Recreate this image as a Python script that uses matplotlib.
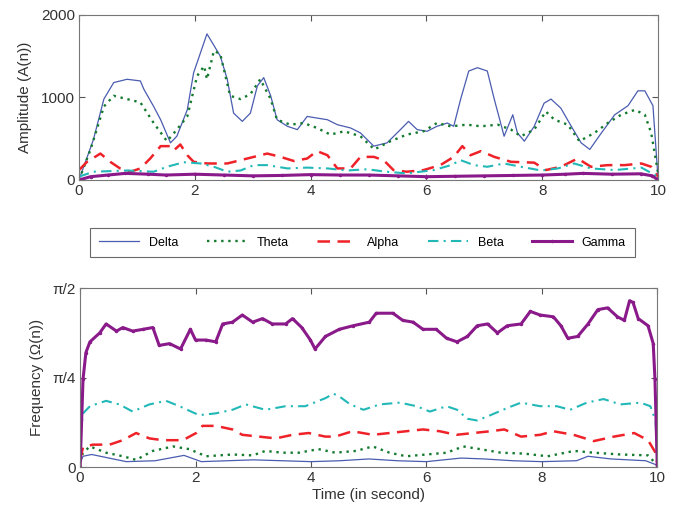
import matplotlib
matplotlib.use("Agg")
import matplotlib.pyplot as plt
import numpy as np

plt.rcParams['font.family'] = ['Liberation Sans', 'DejaVu Sans']

# ---- amplitude panel ----
delta_amp_t = [0, 0.25, 0.43, 0.6, 0.83, 1.06, 1.12, 1.29, 1.41, 1.58, 1.69, 1.87, 1.98, 2.1, 2.21,
               2.33, 2.44, 2.56, 2.67, 2.82, 2.96, 3.08, 3.19, 3.31, 3.42, 3.6, 3.77, 3.94, 4.11,
               4.29, 4.46, 4.69, 4.86, 5.09, 5.32, 5.55, 5.69, 5.84, 6.01, 6.18, 6.36, 6.47, 6.59,
               6.73, 6.88, 7.05, 7.17, 7.28, 7.34, 7.49, 7.57, 7.69, 7.86, 8.03, 8.15, 8.32, 8.5,
               8.67, 8.82, 9.02, 9.25, 9.48, 9.65, 9.77, 9.91, 10]
delta_amp = [0, 490, 980, 1180, 1220, 1200, 1100, 890, 730, 450, 530, 850, 1300, 1545, 1770,
             1630, 1500, 1220, 810, 710, 810, 1140, 1240, 1020, 730, 650, 610, 770, 750,
             730, 670, 630, 570, 410, 450, 610, 710, 610, 590, 650, 690, 650, 980,
             1320, 1360, 1320, 980, 690, 530, 790, 570, 470, 650, 930, 980, 870, 650,
             450, 370, 570, 790, 900, 1080, 1080, 900, 0]

theta_amp_t = [0, 0.2, 0.43, 0.6, 0.83, 1.06, 1.29, 1.52, 1.69, 1.87, 2.04, 2.16, 2.21, 2.33, 2.44,
               2.61, 2.79, 2.96, 3.13, 3.31, 3.42, 3.65, 3.88, 4.11, 4.34, 4.58, 4.86, 5.1, 5.38,
               5.66, 5.95, 6.18, 6.42, 6.7, 6.94, 7.23, 7.46, 7.63, 7.86, 8.06, 8.21, 8.44, 8.64,
               8.9, 9.13, 9.36, 9.6, 9.77, 9.88, 10]
theta_amp = [0, 370, 890, 1020, 980, 940, 690, 470, 610, 770, 1260, 1380, 1220, 1565, 1525,
             1020, 980, 1040, 1220, 980, 730, 670, 690, 630, 550, 590, 530, 370, 470,
             550, 590, 690, 650, 670, 650, 670, 610, 530, 610, 830, 730, 670, 470,
             570, 690, 790, 850, 790, 570, 80]

alpha_amp_t = [0, 0.14, 0.37, 0.54, 0.71, 0.89, 1.06, 1.23, 1.41, 1.58, 1.64, 1.75, 1.87, 1.98,
               2.21, 2.56, 2.79, 3.02, 3.25, 3.48, 3.71, 3.94, 4.11, 4.29, 4.46, 4.69, 4.86, 5.09,
               5.26, 5.43, 5.66, 5.95, 6.24, 6.47, 6.62, 6.76, 6.94, 7.17, 7.46, 7.86, 8.06, 8.32,
               8.61, 8.84, 9.13, 9.42, 9.71, 9.88, 10]
alpha_amp = [120, 220, 320, 220, 140, 100, 140, 260, 410, 410, 360, 430, 300, 220,
             200, 200, 240, 280, 320, 280, 230, 260, 350, 300, 140, 140, 280, 280,
             240, 120, 100, 120, 180, 280, 410, 300, 350, 280, 220, 210, 120, 160,
             260, 160, 180, 180, 200, 160, 40]

beta_amp_t = [0, 0.25, 0.83, 1.29, 1.52, 1.81, 2.1, 2.33, 2.56, 2.79, 3.02, 3.25, 3.6, 3.94, 4.29,
              4.63, 4.98, 5.3, 5.66, 6.13, 6.42, 6.59, 6.82, 7.05, 7.34, 7.63, 7.98, 8.27, 8.55,
              8.84, 9.25, 9.71, 10]
beta_amp = [40, 100, 115, 100, 160, 215, 200, 160, 100, 115, 180, 180, 140, 150, 140,
            115, 130, 100, 80, 120, 180, 240, 180, 160, 200, 160, 115, 140, 200,
            140, 120, 150, 40]

gamma_amp_t = [0, 0.2, 0.5, 0.8, 1.2, 1.5, 2.0, 2.5, 3.0, 3.5, 4.0, 4.5, 5.0, 5.5, 6.0, 6.5,
               7.0, 7.5, 8.0, 8.4, 8.7, 9.2, 9.7, 9.9, 10]
gamma_amp = [0, 40, 60, 80, 70, 60, 70, 60, 50, 55, 65, 60, 60, 50, 40, 45,
             50, 55, 60, 70, 80, 70, 75, 50, 0]

# ---- frequency panel, values as fraction of pi/2 ----
delta_frq_t = [0, 0.05, 0.2, 0.5, 0.8, 1.3, 1.8, 2.1, 3.0, 4.0, 4.5, 5.0, 5.5, 6.0, 6.6, 7.0,
               7.5, 8.0, 8.6, 8.8, 9.2, 9.8, 10]
delta_frq = [0.02, 0.06, 0.07, 0.05, 0.03, 0.035, 0.065, 0.03, 0.04, 0.03, 0.035, 0.045, 0.035,
             0.03, 0.05, 0.045, 0.035, 0.03, 0.035, 0.06, 0.045, 0.035, 0.01]

theta_frq_t = [0, 0.05, 0.17, 0.45, 0.74, 0.97, 1.26, 1.61, 1.89, 2.18, 2.64, 2.99, 3.21, 3.5,
               3.79, 4.13, 4.42, 4.78, 5.07, 5.36, 5.65, 6.0, 6.35, 6.64, 6.93, 7.29, 7.69,
               8.1, 8.56, 8.9, 9.36, 9.84, 10]
theta_frq = [0.03, 0.08, 0.115, 0.08, 0.06, 0.04, 0.09, 0.115, 0.10, 0.06, 0.07, 0.065, 0.09,
             0.08, 0.08, 0.10, 0.08, 0.09, 0.115, 0.08, 0.06, 0.07, 0.08, 0.115, 0.10, 0.08,
             0.075, 0.06, 0.09, 0.08, 0.07, 0.065, 0.01]

alpha_frq_t = [0, 0.05, 0.22, 0.51, 0.74, 0.97, 1.2, 1.43, 1.78, 2.01, 2.12, 2.35, 2.64, 2.81,
               3.1, 3.39, 3.68, 3.96, 4.25, 4.42, 4.72, 5.07, 5.36, 5.65, 5.94, 6.23, 6.52,
               6.81, 7.11, 7.35, 7.64, 7.97, 8.2, 8.55, 8.9, 9.25, 9.6, 9.84, 9.97, 10]
alpha_frq = [0.04, 0.11, 0.125, 0.125, 0.15, 0.19, 0.16, 0.15, 0.15, 0.19, 0.23, 0.23, 0.21,
             0.18, 0.17, 0.16, 0.18, 0.19, 0.17, 0.17, 0.20, 0.18, 0.19, 0.20, 0.21, 0.20,
             0.18, 0.19, 0.20, 0.21, 0.17, 0.18, 0.20, 0.18, 0.145, 0.17, 0.19, 0.15, 0.08, 0.02]

beta_frq_t = [0, 0.05, 0.17, 0.45, 0.68, 0.91, 1.2, 1.49, 1.72, 2.06, 2.35, 2.64, 2.87, 3.21,
              3.56, 3.9, 4.25, 4.39, 4.49, 4.68, 4.91, 5.19, 5.54, 5.83, 6.06, 6.35, 6.53, 6.71,
              6.88, 7.11, 7.4, 7.64, 7.97, 8.26, 8.49, 8.78, 9.07, 9.36, 9.71, 9.88, 9.97, 10]
beta_frq = [0.17, 0.30, 0.34, 0.37, 0.35, 0.31, 0.35, 0.37, 0.34, 0.29, 0.30, 0.32, 0.35, 0.32,
            0.34, 0.34, 0.385, 0.41, 0.395, 0.35, 0.32, 0.35, 0.36, 0.34, 0.31, 0.34, 0.32, 0.27,
            0.26, 0.29, 0.33, 0.36, 0.34, 0.34, 0.32, 0.36, 0.38, 0.35, 0.36, 0.34, 0.26, 0.04]

gamma_frq_t = [0, 0.05, 0.1, 0.17, 0.34, 0.45, 0.63, 0.74, 0.91, 1.09, 1.26, 1.37, 1.55, 1.74,
               1.91, 2.0, 2.18, 2.35, 2.47, 2.64, 2.81, 2.99, 3.16, 3.33, 3.56, 3.68, 3.84, 3.99,
               4.07, 4.25, 4.49, 4.73, 5.01, 5.13, 5.42, 5.59, 5.77, 5.94, 6.17, 6.35, 6.53,
               6.71, 6.88, 7.06, 7.23, 7.4, 7.64, 7.8, 7.97, 8.2, 8.33, 8.45, 8.62, 8.8, 8.97,
               9.14, 9.31, 9.43, 9.52, 9.58, 9.67, 9.84, 9.93, 9.96, 10]
gamma_frq = [0.0, 0.49, 0.64, 0.70, 0.75, 0.80, 0.76, 0.78, 0.76, 0.77, 0.78, 0.68, 0.69, 0.66,
             0.77, 0.71, 0.71, 0.70, 0.80, 0.81, 0.85, 0.81, 0.83, 0.80, 0.80, 0.83, 0.78, 0.71,
             0.66, 0.73, 0.77, 0.79, 0.81, 0.86, 0.86, 0.82, 0.81, 0.77, 0.77, 0.72, 0.70,
             0.73, 0.79, 0.80, 0.75, 0.79, 0.80, 0.87, 0.85, 0.84, 0.79, 0.72, 0.73, 0.80, 0.88,
             0.89, 0.84, 0.82, 0.93, 0.92, 0.83, 0.79, 0.69, 0.49, 0.01]

labels = ['Delta', 'Theta', 'Alpha', 'Beta', 'Gamma']
colors = ['#4a5cb0', '#137a2e', '#ee2228', '#22b8b8', '#8a1a8a']
styles = [dict(ls='-', lw=0.9),
          dict(ls=(0, (1, 2)), lw=1.7),
          dict(ls=(0, (5, 3)), lw=1.8),
          dict(ls=(0, (5, 2.5, 1, 2.5)), lw=1.5),
          dict(ls='-', lw=2.2, marker='.', markersize=3)]

amp = [(delta_amp_t, delta_amp), (theta_amp_t, theta_amp), (alpha_amp_t, alpha_amp),
       (beta_amp_t, beta_amp), (gamma_amp_t, gamma_amp)]
frq = [(delta_frq_t, delta_frq), (theta_frq_t, theta_frq), (alpha_frq_t, alpha_frq),
       (beta_frq_t, beta_frq), (gamma_frq_t, gamma_frq)]

fig = plt.figure(figsize=(6.79, 5.08), dpi=100)
ax1 = fig.add_axes([0.1163, 0.6457, 0.853, 0.325])
ax2 = fig.add_axes([0.118, 0.0807, 0.85, 0.352])

handles = []
for i in range(5):
    h, = ax1.plot(amp[i][0], amp[i][1], color=colors[i], label=labels[i], **styles[i])
    handles.append(h)
    ax2.plot(frq[i][0], np.pi / 2 * np.array(frq[i][1]), color=colors[i], **styles[i])

for ax in (ax1, ax2):
    ax.set_xlim(0, 10)
    ax.set_xticks([0, 2, 4, 6, 8, 10])
    ax.tick_params(direction='in', top=True, right=True, labelsize=11, length=4,
                   color='#555555', labelcolor='#333333', pad=3)
    for s in ax.spines.values():
        s.set_color('#777777')

ax1.set_ylim(0, 2000)
ax1.set_yticks([0, 1000, 2000])
ax1.set_ylabel('Amplitude (A(n))', fontsize=11, color='#333333', labelpad=6)

ax2.set_ylim(0, np.pi / 2)
ax2.set_yticks([0, np.pi / 4, np.pi / 2])
ax2.set_yticklabels(['0', 'π/4', 'π/2'])
ax2.set_ylabel('Frequency (Ω(n))', fontsize=11, color='#333333', labelpad=6)
ax2.set_xlabel('Time (in second)', fontsize=11, color='#333333', labelpad=2)

leg = fig.legend(handles=handles, loc='center', ncol=5, fontsize=9,
                 bbox_to_anchor=(0.124, 0.49, 0.82, 0.065), mode='expand',
                 fancybox=False, edgecolor='#444444', handlelength=3.2,
                 borderpad=0.7, columnspacing=1.0)
leg.get_frame().set_linewidth(0.8)

fig.savefig('out.png', dpi=100)
